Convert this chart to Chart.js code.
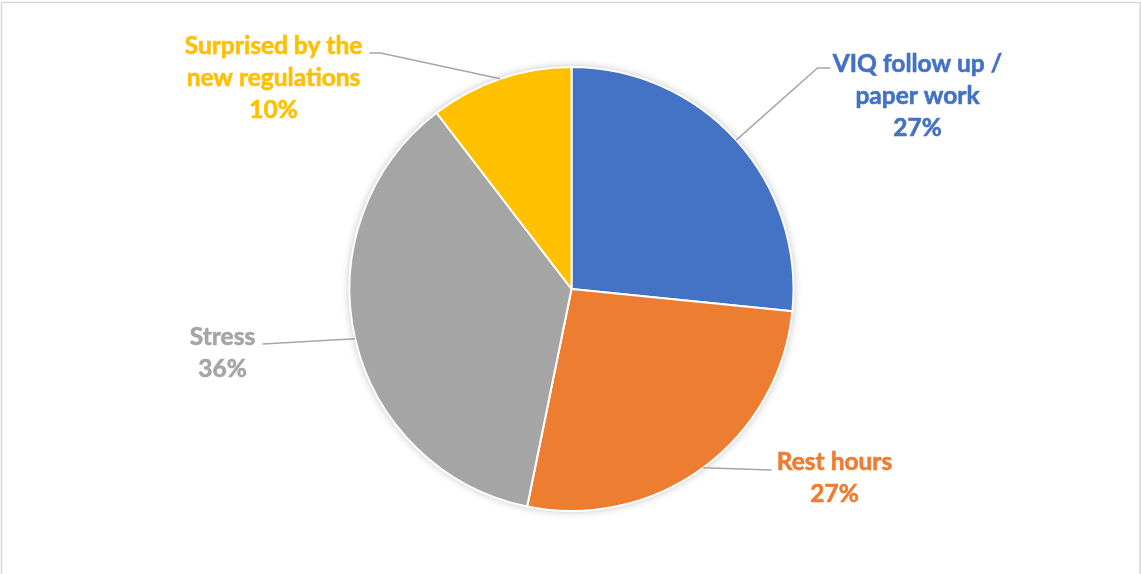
<!DOCTYPE html>
<html>
<head>
<meta charset="utf-8">
<script src="https://cdn.jsdelivr.net/npm/chart.js@4/dist/chart.umd.min.js"></script>
<style>
  html, body { margin: 0; padding: 0; background: #fff; }
  #wrap { width: 1141px; height: 574px; position: relative; }
</style>
</head>
<body>
<div id="wrap"><canvas id="pieChart"></canvas></div>
<script>
// data
const categories = ['VIQ follow up / paper work', 'Rest hours', 'Stress', 'Surprised by the new regulations'];
const labelLines = [['VIQ follow up /', 'paper work'], ['Rest hours'], ['Stress'], ['Surprised by the', 'new regulations']];
const values = [26.6, 26.6, 36.4, 10.4];
const colors = ['#4472C4', '#ED7D31', '#A5A5A5', '#FFC000'];

// label placement, relative to the pie centre (manual, like the original)
const labelPlace = [
  { x: 346, y: -217, line: [[246, -221], [259, -221]] },
  { x: 263, y: 181, line: [[170, 180], [200, 181]] },
  { x: -349, y: 56, line: [[-309, 55]] },
  { x: -298, y: -235, line: [[-191, -236], [-202, -236]] }
];

const FONT = 'bold 24.5px Lato, "Open Sans", sans-serif';
const LINE_H = 32;

const framePlugin = {
  id: 'frame',
  beforeDraw(chart) {
    const ctx = chart.ctx;
    ctx.save();
    ctx.fillStyle = '#fff';
    ctx.fillRect(0, 0, chart.width, chart.height);
    ctx.strokeStyle = '#D9D9D9';
    ctx.lineWidth = 1.5;
    ctx.strokeRect(1.5, 2.5, 1138.5, 620);
    ctx.restore();
  }
};

// soft shadow behind the pie
const shadowPlugin = {
  id: 'pieShadow',
  beforeDatasetsDraw(chart) {
    const arc = chart.getDatasetMeta(0).data[0];
    if (!arc) return;
    const ctx = chart.ctx;
    ctx.save();
    ctx.shadowColor = 'rgba(0,0,0,0.28)';
    ctx.shadowBlur = 9;
    ctx.fillStyle = '#fff';
    ctx.beginPath();
    ctx.arc(arc.x, arc.y, arc.outerRadius, 0, Math.PI * 2);
    ctx.fill();
    ctx.restore();
  }
};

const labelPlugin = {
  id: 'sliceLabels',
  afterDatasetsDraw(chart) {
    const ctx = chart.ctx;
    const meta = chart.getDatasetMeta(0);
    const total = values.reduce((a, b) => a + b, 0);
    meta.data.forEach((arc, i) => {
      const mid = (arc.startAngle + arc.endAngle) / 2;
      const ex = arc.x + Math.cos(mid) * arc.outerRadius;
      const ey = arc.y + Math.sin(mid) * arc.outerRadius;
      const p = labelPlace[i];

      // leader line
      ctx.save();
      ctx.strokeStyle = '#A6A6A6';
      ctx.lineWidth = 1.5;
      ctx.beginPath();
      ctx.moveTo(ex, ey);
      p.line.forEach(pt => ctx.lineTo(arc.x + pt[0], arc.y + pt[1]));
      ctx.stroke();
      ctx.restore();

      // text
      const pct = Math.round(values[i] / total * 100) + '%';
      const lines = labelLines[i].concat([pct]);
      ctx.save();
      ctx.font = FONT;
      ctx.fillStyle = colors[i];
      ctx.strokeStyle = colors[i];
      ctx.lineWidth = 0.6;
      ctx.textAlign = 'center';
      ctx.textBaseline = 'alphabetic';
      lines.forEach((t, k) => {
        ctx.fillText(t, arc.x + p.x, arc.y + p.y + k * LINE_H);
        ctx.strokeText(t, arc.x + p.x, arc.y + p.y + k * LINE_H);
      });
      ctx.restore();
    });
  }
};

new Chart(document.getElementById('pieChart'), {
  type: 'pie',
  data: {
    labels: categories,
    datasets: [{
      data: values,
      backgroundColor: colors,
      borderColor: '#fff',
      borderWidth: 2
    }]
  },
  options: {
    responsive: true,
    maintainAspectRatio: false,
    animation: false,
    layout: { padding: { top: 66, bottom: 62, left: 2, right: 0 } },
    plugins: {
      legend: { display: false },
      tooltip: { enabled: false }
    }
  },
  plugins: [framePlugin, shadowPlugin, labelPlugin]
});
</script>
</body>
</html>
